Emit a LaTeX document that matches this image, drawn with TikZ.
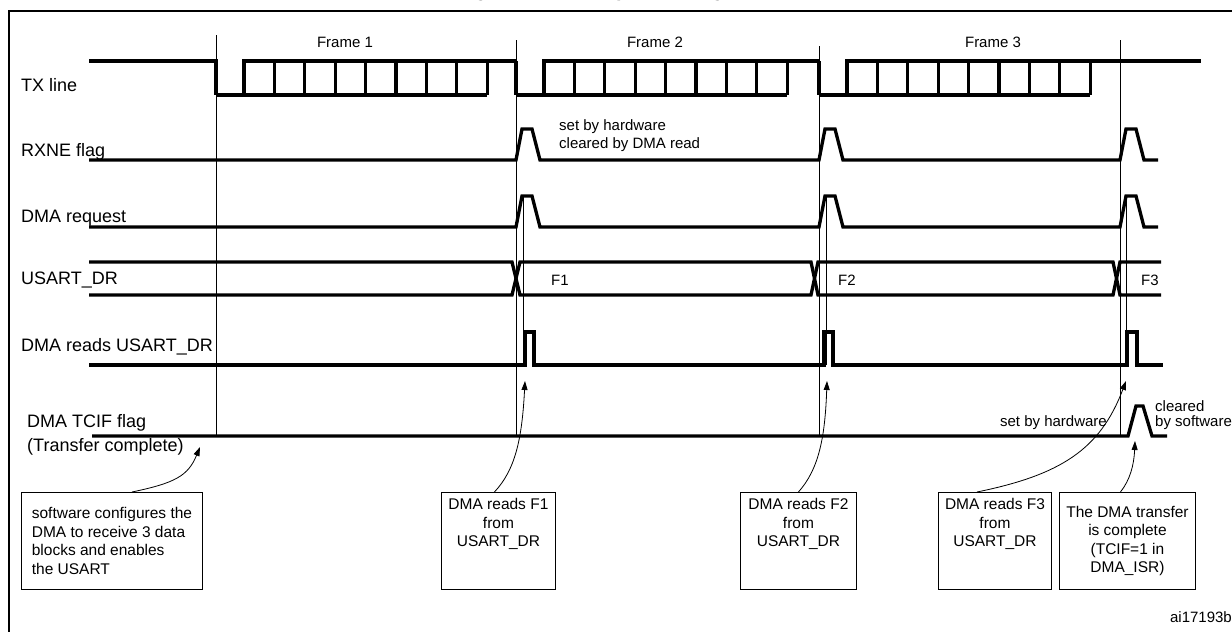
\documentclass[tikz,border=0pt]{standalone}
\usepackage{fontspec}
\setmainfont{Liberation Sans}
\usetikzlibrary{arrows.meta}
\begin{document}
\begin{tikzpicture}[x=1pt,y=-1pt,
  sig/.style={line width=3.3pt,line join=miter},
  thin/.style={line width=0.8pt},
  lbl/.style={font=\fontsize{18}{20}\selectfont,anchor=base west,inner sep=0pt},
  small/.style={font=\fontsize{15}{17}\selectfont,inner sep=0pt},
  box/.style={draw,line width=0.9pt,minimum height=97pt,align=center,font=\fontsize{15.5}{18.5}\selectfont,inner sep=2pt},
  arr/.style={line width=0.8pt,-{Triangle[length=9pt,width=6pt]}}]
\useasboundingbox (0,0) rectangle (1232,632);
\node[font=\bfseries\fontsize{20}{22}\selectfont,anchor=base] (title) at (616,-4) {Figure 293.\ Reception using DMA};
\draw[line width=1.8pt] (9,632) -- (9,11) -- (1232,11);
% labels
\node[lbl] (ltx) at (21,91) {TX line};
\node[lbl] (lrx) at (21,156) {RXNE flag};
\node[lbl] (lrq) at (21,222) {DMA request};
\node[lbl] (ldr) at (21,284) {USART\_DR};
\node[lbl] (lrd) at (21,351) {DMA reads USART\_DR};
\node[lbl] (ltc) at (27,427) {DMA TCIF flag};
\node[lbl] (ltc2) at (27,451) {(Transfer complete)};
\node[small,anchor=base] (f1) at (345,47) {Frame 1};
\node[small,anchor=base] (f2) at (655,47) {Frame 2};
\node[small,anchor=base] (f3) at (993,47) {Frame 3};
% vertical thin lines
\draw[thin] (216,35) -- (216,436);
\draw[thin] (516,40) -- (516,436);
\draw[thin] (819,46) -- (819,436);
\draw[thin] (1120,40) -- (1120,436);
\draw[thin] (523,196) -- (523,365);
\draw[thin] (826,196) -- (826,365);
\draw[thin] (1126,196) -- (1126,365);
% TX line
\draw[sig] (89,61) -- (216,61) -- (216,95);
\foreach \B/\E in {216/516,516/819,819/1201}{
  \draw[sig] (\B,95) -- ({\B+271},95);
  \draw[sig] ({\B+28},95) -- ({\B+28},61) -- (\E,61);
  \foreach \k in {1,...,8}{\draw[sig] ({\B+28+\k*30.4},61) -- ({\B+28+\k*30.4},95);}
}
\draw[sig] (516,61) -- (516,95);
\draw[sig] (819,61) -- (819,95);
% RXNE and DMA request
\foreach \y in {160,227}{
  \draw[sig] (89,\y) -- (516,\y) -- (522,{\y-31}) -- (532,{\y-31}) -- (540,\y) -- (819,\y) -- (825,{\y-31}) -- (835,{\y-31}) -- (843,\y) -- (1120,\y) -- (1126,{\y-31}) -- (1136,{\y-31}) -- (1144,\y) -- (1158,\y);
}
% USART_DR
\draw[sig] (89,262) -- (512,262) -- (520,295) -- (811,295) -- (818,262) -- (1113,262) -- (1120,295) -- (1161,295);
\draw[sig] (89,295) -- (512,295) -- (520,262) -- (811,262) -- (818,295) -- (1113,295) -- (1120,262) -- (1161,262);
\node[small,anchor=base west] (lf1) at (551,285) {F1};
\node[small,anchor=base west] (lf2) at (838,285) {F2};
\node[small,anchor=base west] (lf3) at (1141,285) {F3};
% DMA reads
\draw[sig] (89,365) -- (525,365) -- (525,332) -- (534,332) -- (534,365) -- (824,365) -- (824,332) -- (833,332) -- (833,365) -- (1127,365) -- (1127,332) -- (1137,332) -- (1137,365) -- (1163,365);
% TCIF
\draw[sig] (92,436) -- (1128,436) -- (1136,406) -- (1143,406) -- (1152,436) -- (1167,436);
% annotations
\node[small,anchor=base west] (n1) at (559,130) {set by hardware};
\node[small,anchor=base west] (n2) at (559,148) {cleared by DMA read};
\node[small,anchor=base east] (n3) at (1107,426) {set by hardware};
\node[small,anchor=base west] (n4) at (1155,411) {cleared};
\node[small,anchor=base west] (n5) at (1155,426) {by software};
\node[small,anchor=base east] (ai) at (1232,622) {ai17193b};
% boxes
\node[box,minimum width=181pt,anchor=north west,align=left] (b0) at (21,492) {software configures the\\DMA to receive 3 data\\blocks and enables\\the USART};
\node[box,minimum width=114pt,anchor=north west] (b1) at (441,492) {DMA reads F1\\from\\USART\_DR\\[18pt]};
\node[box,minimum width=116pt,anchor=north west] (b2) at (740,492) {DMA reads F2\\from\\USART\_DR\\[18pt]};
\node[box,minimum width=113pt,anchor=north west] (b3) at (938,492) {DMA reads F3\\from\\USART\_DR\\[18pt]};
\node[box,minimum width=136pt,anchor=north west] (b4) at (1059,492) {The DMA transfer\\is complete\\(TCIF=1 in\\DMA\_ISR)};
\coordinate (t0) at (200,447);
\coordinate (t1) at (525,381);
\coordinate (t2) at (827,381);
\coordinate (t3) at (1126,381);
\coordinate (t4) at (1135,441);
\draw[arr] ([xshift=20pt]b0.north) .. controls (175,483) and (188,476) .. (t0);
\draw[arr] ([xshift=-4pt]b1.north) .. controls (515,470) and (522,440) .. (t1);
\draw[arr] ([xshift=0pt]b2.north) .. controls (818,470) and (825,440) .. (t2);
\draw[arr] ([xshift=-18pt]b3.north) .. controls (1060,475) and (1100,450) .. (t3);
\draw[arr] ([xshift=-7pt]b4.north) .. controls (1130,480) and (1134,465) .. (t4);
\end{tikzpicture}
\end{document}
